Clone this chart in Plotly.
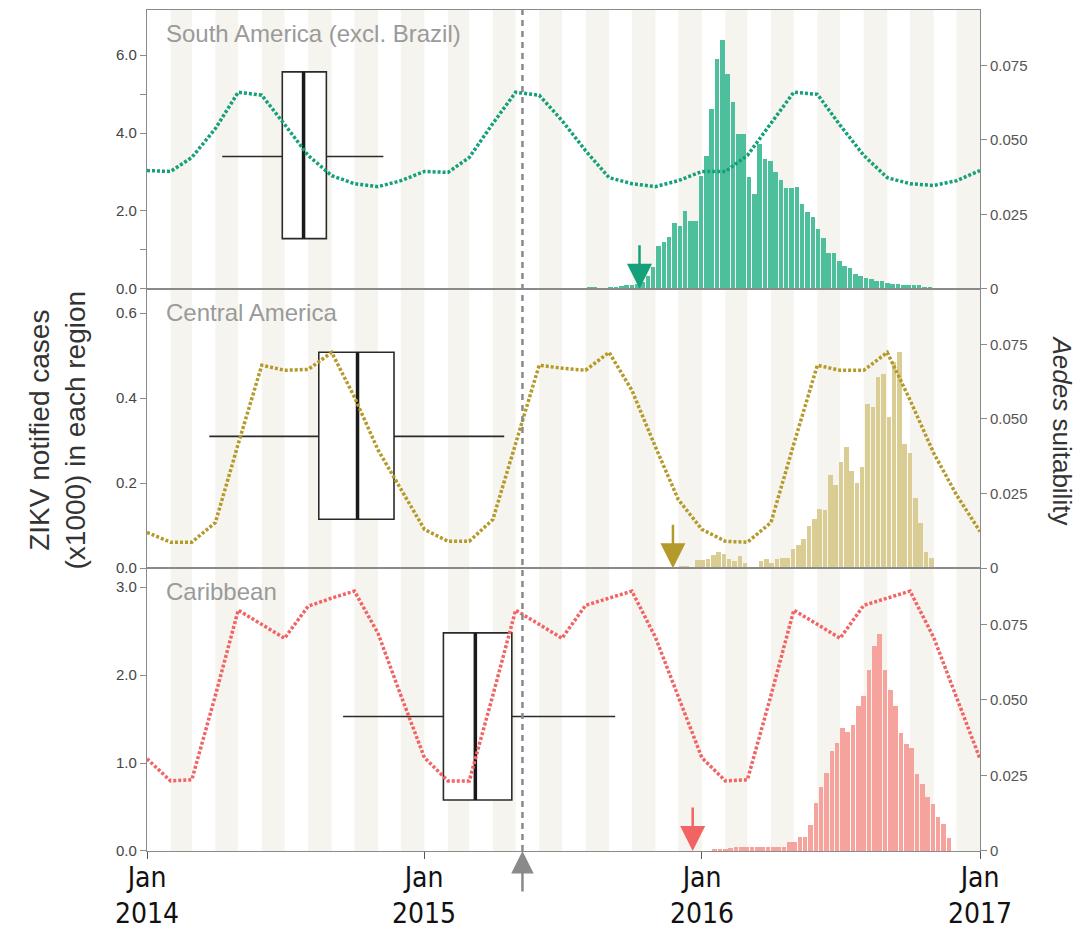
import pandas as pd
import plotly.graph_objects as go
from plotly.subplots import make_subplots

# ---------------- data ----------------
regions = ["South America (excl. Brazil)", "Central America", "Caribbean"]

# monthly Aedes suitability (month starts, Jan 2014 .. Jan 2017)
months = pd.date_range("2014-01-01", "2017-01-01", freq="MS")
suit_south = [0.0397, 0.0394, 0.0441, 0.0538, 0.0660, 0.0650, 0.0552, 0.0448, 0.0380, 0.0353, 0.0343, 0.0363, 0.0394,
              0.0391, 0.0441, 0.0555, 0.0660, 0.0650, 0.0565, 0.0464, 0.0373, 0.0353, 0.0343, 0.0363, 0.0394,
              0.0394, 0.0448, 0.0555, 0.0660, 0.0653, 0.0549, 0.0448, 0.0373, 0.0353, 0.0347, 0.0363, 0.0397]
suit_central = [0.0120, 0.0087, 0.0087, 0.0153, 0.0416, 0.0680, 0.0663, 0.0666, 0.0723, 0.0573, 0.0396, 0.0263, 0.0130,
                0.0090, 0.0090, 0.0163, 0.0416, 0.0680, 0.0670, 0.0663, 0.0723, 0.0596, 0.0406, 0.0230, 0.0130,
                0.0090, 0.0087, 0.0153, 0.0416, 0.0680, 0.0663, 0.0663, 0.0723, 0.0563, 0.0386, 0.0246, 0.0123]
suit_carib = [0.0305, 0.0232, 0.0236, 0.0515, 0.0797, 0.0750, 0.0704, 0.0810, 0.0837, 0.0860, 0.0720, 0.0515, 0.0309,
              0.0232, 0.0232, 0.0515, 0.0797, 0.0750, 0.0704, 0.0813, 0.0837, 0.0860, 0.0707, 0.0508, 0.0309,
              0.0232, 0.0236, 0.0515, 0.0797, 0.0750, 0.0704, 0.0813, 0.0837, 0.0860, 0.0707, 0.0508, 0.0305]

# weekly ZIKV notified cases (x1000)
start_south = "2015-08-06"
cases_south = [0.04, 0.03, 0.01, 0.01, 0.03, 0.04, 0.07, 0.11, 0.11, 0.13,
               0.18, 0.32, 0.56, 1.09, 1.19, 1.32, 1.69, 1.62, 1.99, 1.75,
               1.75, 2.91, 3.41, 4.61, 5.90, 6.40, 5.52, 4.79, 3.97, 3.97,
               2.88, 2.44, 3.72, 3.33, 3.28, 3.00, 2.80, 2.60, 2.59, 2.62,
               2.17, 1.98, 1.84, 1.53, 1.31, 0.93, 0.92, 0.72, 0.58, 0.53,
               0.39, 0.32, 0.29, 0.25, 0.21, 0.19, 0.15, 0.13, 0.13, 0.10,
               0.09, 0.09, 0.09, 0.06, 0.03]
start_central = "2015-10-31"
cases_central = [0.001, 0.002, 0.003, 0.004, 0.003, 0.005, 0.006, 0.004, 0.020, 0.020,
                 0.023, 0.031, 0.039, 0.033, 0.023, 0.017, 0.029, 0.013, 0.004, 0.002,
                 0.017, 0.023, 0.012, 0.021, 0.025, 0.024, 0.045, 0.056, 0.070, 0.100,
                 0.117, 0.140, 0.137, 0.219, 0.196, 0.249, 0.286, 0.229, 0.200, 0.239,
                 0.387, 0.380, 0.451, 0.456, 0.356, 0.485, 0.510, 0.292, 0.272, 0.166,
                 0.107, 0.039, 0.025]
start_carib = "2016-01-18"
cases_carib = [0.010, 0.015, 0.015, 0.030, 0.045, 0.045, 0.045, 0.045, 0.042, 0.038,
               0.045, 0.042, 0.042, 0.045, 0.095, 0.100, 0.163, 0.163, 0.295, 0.540,
               0.727, 0.890, 1.136, 1.230, 1.400, 1.350, 1.430, 1.650, 1.760, 2.060,
               2.330, 2.470, 2.060, 1.830, 1.650, 1.340, 1.210, 1.170, 0.870, 0.760,
               0.610, 0.530, 0.380, 0.300, 0.150]

# box plots (dates: whisker low, Q1, median, Q3, whisker high); heights in case units
box_south = ["2014-04-10", "2014-06-28", "2014-07-26", "2014-08-25", "2014-11-08"]
box_south_y = [1.29, 3.40, 5.57]
box_central = ["2014-03-24", "2014-08-15", "2014-10-05", "2014-11-22", "2015-04-16"]
box_central_y = [0.115, 0.31, 0.508]
box_carib = ["2014-09-16", "2015-01-26", "2015-03-09", "2015-04-26", "2015-09-09"]
box_carib_y = [0.58, 1.53, 2.48]

# first-case arrows
onset_dates = ["2015-10-11", "2015-11-24", "2015-12-20"]
event_date = "2015-05-10"

# x-axis ticks
tick_dates = ["2014-01-01", "2015-01-01", "2016-01-01", "2017-01-01"]
tick_labels = ["Jan<br>2014", "Jan<br>2015", "Jan<br>2016", "Jan<br>2017"]

# ---------------- styling ----------------
line_colors = ["#14a07a", "#b39a2a", "#f26464"]
bar_colors = ["#4dbf9c", "#d9cd94", "#f6a29d"]
left_ranges = [7.16, 0.657, 3.216]
left_ticks = [([0, 1, 2, 4, 5, 6], ["0.0", "", "2.0", "4.0", "", "6.0"]),
              ([0, 0.2, 0.4, 0.6], ["0.0", "0.2", "0.4", "0.6"]),
              ([0, 1, 2, 3], ["0.0", "1.0", "2.0", "3.0"])]
right_range = 0.0936

FONT = "Liberation Sans, Arial, sans-serif"
NARROW = "Liberation Sans Narrow, DejaVu Sans Condensed, Arial Narrow, sans-serif"

fig = make_subplots(rows=3, cols=1, shared_xaxes=True, vertical_spacing=0,
                    row_heights=[279, 279.5, 283],
                    specs=[[{"secondary_y": True}]] * 3)

suits = [suit_south, suit_central, suit_carib]
cases = [cases_south, cases_central, cases_carib]
starts = [start_south, start_central, start_carib]
boxes = [box_south, box_central, box_carib]
boxes_y = [box_south_y, box_central_y, box_carib_y]

WEEK_MS = 7 * 86400000

shapes = []
# monthly stripes (even months shaded)
for m in pd.date_range("2014-02-01", "2016-12-01", freq="2MS"):
    shapes.append(dict(type="rect", xref="x", yref="paper", x0=m, x1=m + pd.offsets.MonthBegin(1),
                       y0=0, y1=1, fillcolor="#f6f4ee", line=dict(width=0), layer="below"))

for i in range(3):
    r = i + 1
    xs = pd.date_range(starts[i], periods=len(cases[i]), freq="7D")
    fig.add_trace(go.Bar(x=xs, y=cases[i], width=WEEK_MS * 0.86, marker_color=bar_colors[i],
                         marker_line_width=0, showlegend=False, hoverinfo="x+y"),
                  row=r, col=1, secondary_y=False)
    fig.add_trace(go.Scatter(x=months, y=suits[i], mode="lines",
                             line=dict(color=line_colors[i], width=3.5, dash="3px,2px"),
                             showlegend=False),
                  row=r, col=1, secondary_y=True)

    xref = "x" if r == 1 else f"x{r}"
    yref = "y" if r == 1 else f"y{2 * r - 1}"
    lo, q1, med, q3, hi = boxes[i]
    yb, ym, yt = boxes_y[i]
    shapes.append(dict(type="line", xref=xref, yref=yref, x0=lo, x1=hi, y0=ym, y1=ym,
                       line=dict(color="#2a2a2a", width=1.6), layer="below"))
    shapes.append(dict(type="rect", xref=xref, yref=yref, x0=q1, x1=q3, y0=yb, y1=yt,
                       fillcolor="white", line=dict(color="#2a2a2a", width=1.6), layer="below"))
    shapes.append(dict(type="line", xref=xref, yref=yref, x0=med, x1=med, y0=yb, y1=yt,
                       line=dict(color="#1a1a1a", width=3.5), layer="below"))

    # onset arrow
    fig.add_annotation(x=onset_dates[i], y=0, xref=xref, yref=yref, ax=0, ay=-45,
                       text="", showarrow=True, arrowhead=2, arrowsize=2.0, arrowwidth=2.5,
                       arrowcolor=line_colors[i], standoff=0)
    # region label
    fig.add_annotation(x=0.021, y=1, xref=f"{xref} domain", yref=f"{yref} domain",
                       xanchor="left", yanchor="top", yshift=-8, showarrow=False,
                       text=regions[i], font=dict(family=FONT, size=24, color="#9a9a9a"))

    tv, tt = left_ticks[i]
    fig.update_yaxes(range=[0, left_ranges[i]], tickvals=tv, ticktext=tt,
                     showline=True, mirror=True, linecolor="#8a8a8a", linewidth=1.3,
                     ticks="outside", ticklen=6, tickcolor="#8a8a8a",
                     tickfont=dict(family=FONT, size=15, color="#444"),
                     showgrid=False, zeroline=False, automargin=False,
                     row=r, col=1, secondary_y=False)
    fig.update_yaxes(range=[0, right_range], tickvals=[0, 0.025, 0.05, 0.075],
                     ticktext=["0", "0.025", "0.050", "0.075"],
                     showline=False, ticks="outside", ticklen=6, tickcolor="#8a8a8a",
                     tickfont=dict(family=FONT, size=15, color="#555"),
                     showgrid=False, zeroline=False, automargin=False,
                     row=r, col=1, secondary_y=True)
    fig.update_xaxes(range=["2014-01-01", "2017-01-01"], domain=[0, 1], showline=True, mirror=True,
                     linecolor="#8a8a8a", linewidth=1.3, showgrid=False, zeroline=False,
                     showticklabels=False, ticks="", automargin=False, row=r, col=1)

fig.update_xaxes(row=3, col=1, ticks="outside", ticklen=7, tickcolor="#555",
                 tickvals=tick_dates, showticklabels=False)

# two-line tick labels as annotations
for d, lab in zip(tick_dates, tick_labels):
    fig.add_annotation(x=d, y=0, xref="x3", yref="paper", yanchor="bottom", yshift=-80,
                       text=lab, showarrow=False, borderpad=0,
                       font=dict(family=NARROW, size=28, color="#111"))

# dashed vertical event line and grey arrow beneath axis
shapes.append(dict(type="line", xref="x", yref="paper", x0=event_date, x1=event_date, y0=0, y1=1,
                   line=dict(color="#8a8a8a", width=2.5, dash="6px,5px"), layer="above"))
fig.add_annotation(x=event_date, y=0, xref="x3", yref="y5", ax=0, ay=42, text="",
                   showarrow=True, arrowhead=2, arrowsize=1.8, arrowwidth=2.5,
                   arrowcolor="#8a8a8a", standoff=0)

# axis titles
fig.add_annotation(x=0, y=0.5, xref="paper", yref="paper", xanchor="center", yanchor="middle",
                   xshift=-90, textangle=-90,
                   text="ZIKV notified cases<br>(x1000) in each region", showarrow=False,
                   font=dict(family=FONT, size=28, color="#333"))
fig.add_annotation(x=1, y=0.5, xref="paper", yref="paper", xanchor="center", yanchor="middle",
                   xshift=82, textangle=90,
                   text="<i>Aedes</i> suitability", showarrow=False,
                   font=dict(family=FONT, size=26, color="#333"))

fig.update_layout(width=1083, height=929,
                  margin=dict(l=147, r=103, t=10, b=78, autoexpand=False),
                  plot_bgcolor="white", paper_bgcolor="white", shapes=shapes,
                  bargap=0, showlegend=False)

fig.write_html("out.html")
